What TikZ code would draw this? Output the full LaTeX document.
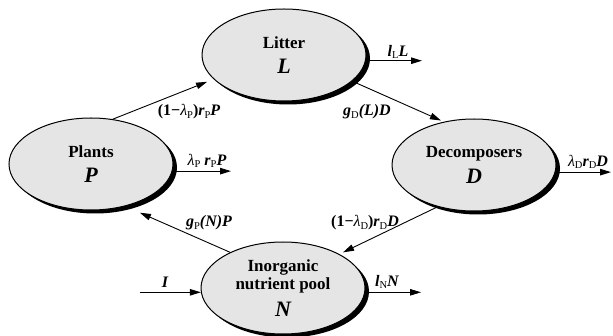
\documentclass[tikz,border=0pt]{standalone}
\usepackage{fontspec}
\setmainfont{Liberation Serif}
\usetikzlibrary{shapes.geometric,shadows,arrows.meta}

\newcommand{\sub}[1]{\raisebox{-0.3ex}{\fontsize{10.5}{10.5}\selectfont\mdseries\upshape #1}}
\newcommand{\lam}{{\mdseries\itshape λ}}
\newcommand{\sym}[1]{{\itshape\fontsize{22}{22}\selectfont #1}}

\begin{document}
\begin{tikzpicture}[x=1pt,y=-1pt,
	pool/.style={ ellipse, draw, line width=1pt, fill=gray!20, minimum width=164pt, minimum height=92pt, inner sep=0pt, align=center, font=\bfseries\fontsize{17}{18}\selectfont, general shadow={fill=black, shadow xshift=4pt, shadow yshift=-3.5pt} },
	flow/.style={ line width=0.9pt, -{Triangle[length=11pt,width=6.5pt]} },
	rate/.style={ inner sep=0pt, font=\bfseries\itshape\fontsize{16}{16}\selectfont }
]
\useasboundingbox (0,0) rectangle (613,336);

\node[pool] at (284,55) (L) {Litter\\[7pt]\sym{L}};
\node[pool] at (91,164) (P) {Plants\\[7pt]\sym{P}};
\node[pool] at (474,165) (D) {Decomposers\\[7pt]\sym{D}};
\node[pool] at (283,288) (N) {Inorganic\\nutrient pool\\[8pt]\sym{N}};

\coordinate (Lout) at (422,61);
\coordinate (Pout) at (231,172);
\coordinate (Dout) at (611,172);
\coordinate (Nout) at (421,292);
\coordinate (Nin) at (140,292);

\draw[flow, shorten >=7pt] (P.64.5) to (L.199.4);
\draw[flow, shorten >=3pt] (L.-21) to (D.125);
\draw[flow, shorten >=4pt] (D.229) to (N.31);
\draw[flow, shorten >=16pt] (N.146) to (P.-51);

\draw[flow] (L.-4) to (L.-4 -| Lout);
\draw[flow] (P.-5.6) to (P.-5.6 -| Pout);
\draw[flow] (D.-5) to (D.-5 -| Dout);
\draw[flow] (N.-3) to (N.-3 -| Nout);
\draw[flow] (N.183 -| Nin) to (N.183);

\node[rate] at (189,112) (rPL) {\textup{(1−}\lam\sub{P}\textup{)}r\sub{P}P};
\node[rate] at (367,112) (rLD) {g\sub{D}(L)D};
\node[rate] at (365,223) (rDN) {\textup{(1−}\lam\sub{D}\textup{)}r\sub{D}D};
\node[rate] at (209,223) (rNP) {g\sub{P}(N)P};
\node[rate] at (398,52) (rL) {l\sub{L}L};
\node[rate] at (207,161) (rP) {\lam\sub{P} r\sub{P}P};
\node[rate] at (588,162) (rD) {\lam\sub{D}r\sub{D}D};
\node[rate] at (387,282) (rN) {l\sub{N}N};
\node[rate] at (165,282) (rI) {I};

\end{tikzpicture}
\end{document}
